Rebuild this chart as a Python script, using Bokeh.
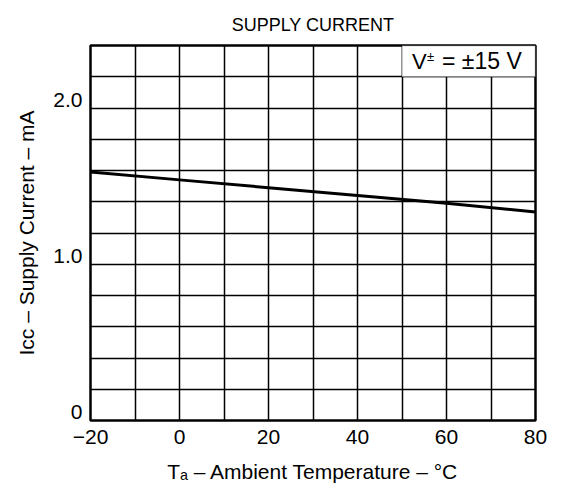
from bokeh.plotting import figure
from bokeh.models import FixedTicker, BoxAnnotation, Label, Range1d
from bokeh.embed import file_html
from bokeh.resources import INLINE

# Data
temps = [-20, 0, 20, 40, 60, 80]
icc = [1.59, 1.54, 1.49, 1.44, 1.39, 1.335]

x_ticks = [-20, 0, 20, 40, 60, 80]
x_tick_labels = ["\u221220", "0", "20", "40", "60", "80"]
y_ticks = [0, 1, 2]
y_tick_labels = ["0", "1.0", "2.0"]
x_grid = [-20, -10, 0, 10, 20, 30, 40, 50, 60, 70, 80]
y_grid = [0, 0.2, 0.4, 0.6, 0.8, 1.0, 1.2, 1.4, 1.6, 1.8, 2.0, 2.2, 2.4]

FONT = "Liberation Sans"

p = figure(width=557, height=485, output_backend="svg", toolbar_location=None,
           x_range=Range1d(-20, 80), y_range=Range1d(0, 2.4),
           min_border_left=90, min_border_right=22, min_border_top=45,
           min_border_bottom=65)
p.background_fill_color = "white"
p.border_fill_color = "white"

p.title.text = "SUPPLY CURRENT"
p.title.align = "center"
p.title.text_font = FONT
p.title.text_font_size = "18px"
p.title.text_font_style = "normal"
p.title.text_color = "black"
p.title.standoff = 22

p.outline_line_color = "black"
p.outline_line_width = 2.5
p.outline_line_alpha = 1

p.xgrid.ticker = FixedTicker(ticks=x_grid)
p.ygrid.ticker = FixedTicker(ticks=y_grid)
for g in (p.xgrid, p.ygrid):
    g.grid_line_color = "black"
    g.grid_line_width = 1.5
    g.grid_line_alpha = 1

p.xaxis.ticker = FixedTicker(ticks=x_ticks)
p.yaxis.ticker = FixedTicker(ticks=y_ticks)
p.xaxis.major_label_overrides = {t: l for t, l in zip(x_ticks, x_tick_labels)}
# labels sit just above their grid line, as in the reference
p.yaxis.major_label_overrides = {t: l + "\n " for t, l in zip(y_ticks, y_tick_labels)}
p.yaxis.major_label_text_line_height = 0.75

for ax in (p.xaxis, p.yaxis):
    ax.axis_line_color = None
    ax.major_tick_line_color = None
    ax.minor_tick_line_color = None
    ax.major_tick_out = 0
    ax.major_tick_in = 0
    ax.minor_tick_out = 0
    ax.minor_tick_in = 0
    ax.major_label_text_font = FONT
    ax.major_label_text_font_size = "21px"
    ax.major_label_text_color = "black"
    ax.axis_label_text_font = FONT
    ax.axis_label_text_font_style = "normal"
    ax.axis_label_text_color = "black"

p.xaxis.major_label_standoff = 9
p.yaxis.major_label_standoff = 8
p.xaxis.axis_label_text_font_size = "21px"
p.yaxis.axis_label_text_font_size = "21px"
p.xaxis.axis_label = "T\u2090 \u2013 Ambient Temperature \u2013 \u00b0C"
p.yaxis.axis_label = "Icc \u2013 Supply Current \u2013 mA"
p.xaxis.axis_label_standoff = 13
p.yaxis.axis_label_standoff = 12

p.line(temps, icc, line_color="black", line_width=3)

box = BoxAnnotation(left=50, right=80, bottom=2.2, top=2.4,
                    fill_color="white", fill_alpha=1,
                    line_color="black", line_width=1.5)
p.add_layout(box)
p.add_layout(Label(x=50, y=2.3, x_offset=10, text="V", text_align="left",
                   text_baseline="middle", text_font=FONT,
                   text_font_size="22px", text_color="black"))
p.add_layout(Label(x=50, y=2.3, x_offset=25, y_offset=5, text="\u00b1",
                   text_align="left", text_baseline="middle", text_font=FONT,
                   text_font_size="13px", text_color="black"))
p.add_layout(Label(x=50, y=2.3, x_offset=40, text="= \u00b115 V",
                   text_align="left", text_baseline="middle", text_font=FONT,
                   text_font_size="23px", text_color="black"))

open("out.html", "w").write(file_html(p, INLINE))
